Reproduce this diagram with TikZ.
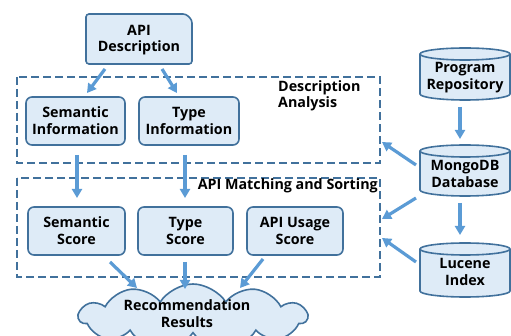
\documentclass[tikz,border=0pt]{standalone}
\usepackage{fontspec}
\setmainfont{Open Sans}
\usetikzlibrary{arrows.meta,shapes.symbols}
\definecolor{edge}{HTML}{41719C}
\definecolor{boxfill}{HTML}{DEEBF7}
\definecolor{arrowc}{HTML}{5B9BD5}
\tikzset{
  every node/.style={font=\fontsize{14.3}{16.8}\selectfont\bfseries, align=center, inner sep=0pt},
  box/.style={draw=edge, fill=boxfill, line width=1.6pt, rounded corners=6pt},
  group/.style={draw=edge, line width=1.8pt, dash pattern=on 8pt off 4pt},
  flow/.style={draw=arrowc, line width=3.2pt, -{Triangle[width=10pt,length=9pt]}},
  cyl/.style={draw=edge, fill=boxfill, line width=1.6pt},
}
% cylinder of width 90 centred at #1, top at #2, bottom at #3
\newcommand{\dbcylinder}[3]{%
  \fill[boxfill] (#1-45,#2+6) -- (#1-45,#3-6) arc[start angle=180,end angle=360,x radius=45,y radius=-6] -- (#1+45,#2+6) arc[start angle=0,end angle=180,x radius=45,y radius=-6] -- cycle;
  \draw[cyl] (#1-45,#2+6) -- (#1-45,#3-6) arc[start angle=180,end angle=360,x radius=45,y radius=-6] -- (#1+45,#2+6);
  \draw[cyl] (#1,#2+6) ellipse[x radius=45,y radius=6];
}
\begin{document}
\begin{tikzpicture}[x=1pt,y=-1pt]
\useasboundingbox (0,0) rectangle (511,336);

% groups
\draw[group] (17,77) rectangle (380,163);
\draw[group] (17,178) rectangle (380,277);
\node[anchor=north west, align=left] (lblda) at (278,80) {Description\\Analysis};
\node[anchor=north east] (lblms) at (378,178) {API Matching and Sorting};

% API description (snipped corner)
\draw[box, rounded corners=3pt] (86,14) -- (186,14) -- (192,20) -- (192,64) -- (86,64) -- cycle;
\node (api) at (139,40) {API\\Description};

% information boxes
\draw[box] (26,97) rectangle (125,145);
\node (seminfo) at (75.5,121) {Semantic\\Information};
\draw[box] (139,97) rectangle (239,145);
\node (typeinfo) at (189,121) {Type\\Information};

% score boxes
\draw[box] (28,207) rectangle (125,255);
\node (semscore) at (76.5,231) {Semantic\\Score};
\draw[box] (138,207) rectangle (233,255);
\node (typescore) at (185.5,231) {Type\\Score};
\draw[box] (247,207) rectangle (343,255);
\node (usescore) at (295,231) {API Usage\\Score};

% result cloud
\node[cloud, cloud puffs=11, cloud puff arc=115, aspect=4, draw=edge, fill=boxfill, line width=1.6pt,
      minimum width=228pt, minimum height=66pt] (cloudshape) at (193,317) {};
\node (result) at (187,314) {Recommendation\\Results};

% storage
\dbcylinder{465}{48}{100}
\node (repo) at (465,78) {Program\\Repository};
\dbcylinder{465}{145}{196}
\node (mongo) at (465,174) {MongoDB\\Database};
\dbcylinder{465}{243}{297}
\node (lucene) at (465,272) {Lucene\\Index};

% connectors
\coordinate (daR1) at (382,142);
\coordinate (msR1) at (382,219);
\coordinate (msR2) at (382,238);
\draw[flow] ([xshift=-34pt,yshift=-29pt]api.center) -- (87,93);
\draw[flow] ([xshift=23pt,yshift=-29pt]api.center) -- (177,93);
\draw[flow] (77,155) -- (77,198);
\draw[flow] (185,155) -- (185,198);
\draw[flow] (110,262) -- (137,288);
\draw[flow] (185,262) -- (185,289);
\draw[flow] (263,259) -- (240,288);
\draw[flow] (460,107) -- (460,139);
\draw[flow] (460,203) -- (460,235);
\draw[flow] (416,165) -- (daR1);
\draw[flow] (416,198) -- (msR1);
\draw[flow] (416,262) -- (msR2);
\end{tikzpicture}
\end{document}
